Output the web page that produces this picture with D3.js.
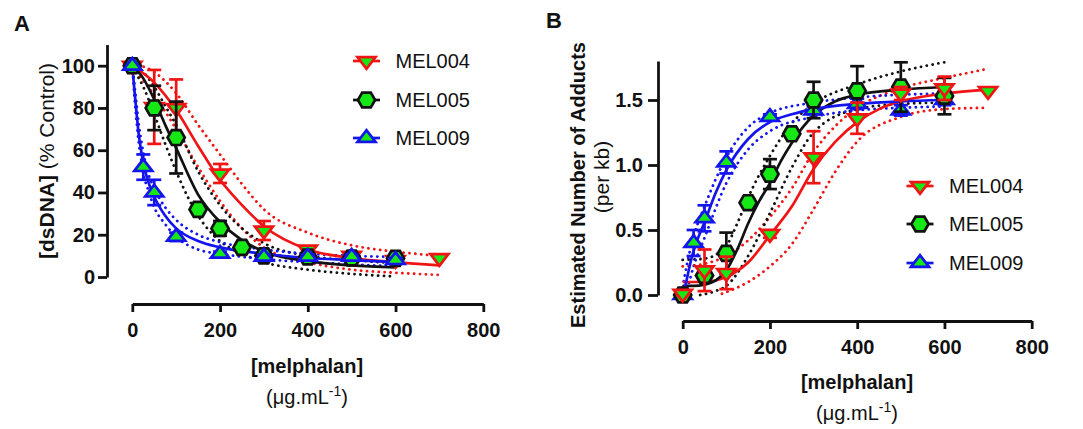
<!DOCTYPE html>
<html><head><meta charset="utf-8">
<script src="https://cdn.jsdelivr.net/npm/d3@7"></script>
<style>
body{margin:0;background:#fff}
svg text{font-family:"Liberation Sans",Arial,Helvetica,sans-serif;fill:#111}
</style>
</head><body>
<svg id="chart" width="1083" height="429"></svg>
<script>
// ---------- labels / ticks ----------
const seriesNames = ["MEL004", "MEL005", "MEL009"];
const xTickValues = [0, 200, 400, 600, 800];
const yTicksA = [0, 20, 40, 60, 80, 100];
const yTicksB = [0, 0.5, 1.0, 1.5];

// ---------- Panel A : measured points (mean, SD) ----------
const a004X = [0, 50, 100, 200, 300, 400, 500, 600, 700];
const a004Y = [100, 80.5, 80, 49, 22, 13, 10, 8, 9];
const a004E = [0, 17.5, 13.5, 4.5, 4.5, 1.5, 1, 1, 0];
const a005X = [0, 50, 100, 150, 200, 250, 300, 400, 500, 600];
const a005Y = [100, 80, 66, 32, 23, 14, 10, 9.5, 9, 8.8];
const a005E = [0, 10.5, 17, 1, 3.5, 1.5, 1, 1, 1, 1];
const a009X = [0, 25, 50, 100, 200, 300, 400, 500, 600];
const a009Y = [100, 52, 40, 19, 11, 9.6, 9.6, 9.6, 8];
const a009E = [0, 6, 6, 2, 1, 1, 1, 1, 1];

// ---------- Panel A : fitted curves + 95% bands ----------
const aFit004X = [0, 50, 100, 150, 200, 250, 300, 400, 500, 600, 700];
const aFit004Y = [100, 92, 79, 62, 46, 34, 24, 13, 9, 7, 5.5];
const aFit004Hi = [101, 97, 87, 72, 58, 44, 32, 21, 15, 12, 10];
const aFit004Lo = [99, 86, 70, 52, 36, 23, 14, 7, 3.5, 2, 1];
const aFit005X = [0, 25, 50, 75, 100, 150, 200, 250, 300, 400, 500, 600];
const aFit005Y = [100, 94, 84, 72, 61, 39, 26, 17.5, 12, 7.5, 5.5, 4.5];
const aFit005Hi = [101, 97, 90, 81, 72, 50, 34, 23, 16, 10, 8, 6.5];
const aFit005Lo = [99, 90, 77, 63, 50, 29, 17, 11, 7, 3.5, 1.5, 0.2];
const aFit009X = [0, 5, 10, 15, 20, 25, 35, 50, 75, 100, 150, 200, 300, 400, 500, 600];
const aFit009Y = [100, 88, 77, 67, 60, 54, 46, 38, 29, 23, 17, 14, 11, 9, 8, 7];
const aFit009Hi = [100, 91, 81, 72, 65, 59, 50, 42, 33, 27, 20, 16.5, 13, 11, 10, 9.5];
const aFit009Lo = [100, 85, 73, 63, 56, 49, 42, 33, 25, 19, 13, 11, 8.5, 7, 6, 5];

// ---------- Panel B : measured points ----------
const b004X = [0, 50, 100, 200, 300, 400, 500, 600, 700];
const b004Y = [0.01, 0.19, 0.17, 0.47, 1.06, 1.36, 1.55, 1.59, 1.57];
const b004E = [0.01, 0.16, 0.125, 0.03, 0.2, 0.12, 0.05, 0.09, 0];
const b005X = [0, 50, 100, 150, 200, 250, 300, 400, 500, 600];
const b005Y = [0, 0.15, 0.32, 0.71, 0.93, 1.24, 1.5, 1.57, 1.6, 1.53];
const b005E = [0.01, 0.03, 0.16, 0.03, 0.115, 0.03, 0.14, 0.19, 0.19, 0.14];
const b009X = [0, 25, 50, 100, 200, 300, 400, 500, 600];
const b009Y = [0, 0.4, 0.59, 1.02, 1.37, 1.42, 1.47, 1.42, 1.5];
const b009E = [0.02, 0.1, 0.1, 0.085, 0.02, 0.03, 0.04, 0.04, 0.04];

// ---------- Panel B : fitted curves + bands ----------
const bFit004X = [0, 50, 100, 150, 200, 250, 300, 350, 400, 450, 500, 600, 700];
const bFit004Y = [0.1, 0.1, 0.14, 0.25, 0.46, 0.68, 0.97, 1.18, 1.33, 1.43, 1.49, 1.55, 1.58];
const bFit004HiX = [0, 50, 100, 150, 200, 250, 300, 350, 400, 500, 600, 700];
const bFit004Hi = [0.22, 0.24, 0.3, 0.42, 0.6, 0.82, 1.1, 1.3, 1.44, 1.59, 1.67, 1.74];
const bFit004LoX = [90, 150, 200, 250, 300, 350, 400, 500, 600, 700];
const bFit004Lo = [0.01, 0.1, 0.22, 0.39, 0.66, 0.95, 1.18, 1.37, 1.43, 1.44];
const bFit005X = [0, 25, 50, 75, 100, 125, 150, 175, 200, 225, 250, 275, 300, 350, 400, 500, 600];
const bFit005Y = [0.07, 0.07, 0.08, 0.11, 0.19, 0.35, 0.55, 0.72, 0.86, 1.03, 1.17, 1.29, 1.38, 1.49, 1.54, 1.58, 1.6];
const bFit005HiX = [0, 50, 100, 125, 150, 200, 250, 300, 400, 500, 600];
const bFit005Hi = [0.27, 0.28, 0.38, 0.55, 0.75, 1.07, 1.32, 1.47, 1.62, 1.72, 1.79];
const bFit005LoX = [40, 75, 100, 150, 200, 250, 300, 400, 500, 600];
const bFit005Lo = [0.0, 0.03, 0.07, 0.3, 0.63, 0.98, 1.25, 1.43, 1.47, 1.48];
const bFit009X = [0, 10, 20, 30, 50, 75, 100, 150, 200, 250, 300, 400, 500, 600];
const bFit009Y = [-0.03, 0.13, 0.28, 0.39, 0.56, 0.78, 0.96, 1.2, 1.33, 1.39, 1.43, 1.47, 1.49, 1.5];
const bFit009HiX = [0, 10, 25, 50, 100, 150, 200, 300, 400, 500, 600];
const bFit009Hi = [0.06, 0.24, 0.45, 0.68, 1.06, 1.29, 1.4, 1.48, 1.52, 1.54, 1.55];
const bFit009LoX = [5, 10, 25, 50, 100, 150, 200, 300, 400, 500, 600];
const bFit009Lo = [-0.04, 0.03, 0.22, 0.44, 0.86, 1.12, 1.26, 1.37, 1.42, 1.44, 1.45];

// ---------- style ----------
const RED = "#f01414", BLACK = "#111111", BLUE = "#1414ee", GREEN = "#16e816";
const SW = 2.7;
const svg = d3.select("#chart");

const zip = (xs, ys) => xs.map((x, i) => [x, ys[i]]);

function markerPath(kind, r) {
  const h = r * 1.5, w = r * 1.732;
  if (kind === "down") return `M${-w},${-h/2}L${w},${-h/2}L0,${h}Z`;
  if (kind === "up") return `M${-w},${h/2}L${w},${h/2}L0,${-h}Z`;
  // hexagon pointy left/right
  const pts = d3.range(6).map(i => [r * Math.cos(i * Math.PI / 3), r * Math.sin(i * Math.PI / 3)]);
  return "M" + pts.map(p => p.join(",")).join("L") + "Z";
}

function drawPanel(cfg) {
  const x = d3.scaleLinear().domain([0, 800]).range(cfg.xRange);
  const y = d3.scaleLinear().domain(cfg.yDomain).range(cfg.yRange);
  const g = svg.append("g");

  const xa = g.append("g").attr("transform", `translate(0,${cfg.xAxisY})`)
    .call(d3.axisBottom(x).tickValues(xTickValues).tickSize(8).tickSizeOuter(0).tickPadding(11));
  const ya = g.append("g").attr("transform", `translate(${cfg.yAxisX},0)`)
    .call(d3.axisLeft(y).tickValues(cfg.yTicks).tickSize(cfg.yTickSize).tickSizeOuter(0)
      .tickPadding(cfg.yTickPad).tickFormat(cfg.yFormat));
  [xa, ya].forEach(a => {
    a.selectAll("path.domain").attr("stroke", BLACK).attr("stroke-width", 2.8);
    a.selectAll(".tick line").attr("stroke", BLACK).attr("stroke-width", 2.8);
    a.selectAll(".tick text").attr("font-size", 20).attr("font-weight", "bold")
      .attr("font-family", "Liberation Sans, Arial, sans-serif").attr("fill", BLACK);
  });

  const line = d3.line().x(d => x(d[0])).y(d => y(d[1])).curve(d3.curveMonotoneX);

  cfg.series.forEach(s => {
    [[s.hiX || s.fitX, s.hi], [s.loX || s.fitX, s.lo]].forEach(([xs, ys]) => {
      g.append("path").attr("d", line(zip(xs, ys))).attr("fill", "none")
        .attr("stroke", s.color).attr("stroke-width", 2.8).attr("stroke-dasharray", "0.1 5.8")
        .attr("stroke-linecap", "round");
    });
  });
  cfg.series.forEach(s => {
    g.append("path").attr("d", line(zip(s.fitX, s.fit))).attr("fill", "none")
      .attr("stroke", s.color).attr("stroke-width", SW);
  });

  cfg.drawOrder.forEach(i => {
    const s = cfg.series[i];
    const pts = s.px.map((v, k) => ({x: v, y: s.py[k], e: s.pe[k]}));
    const gs = g.append("g");
    const eb = gs.selectAll("g.eb").data(pts.filter(d => d.e > 0)).join("g")
      .attr("stroke", s.color).attr("stroke-width", SW);
    eb.append("line").attr("x1", d => x(d.x)).attr("x2", d => x(d.x))
      .attr("y1", d => y(d.y + d.e)).attr("y2", d => y(d.y - d.e));
    eb.append("line").attr("x1", d => x(d.x) - 7).attr("x2", d => x(d.x) + 7)
      .attr("y1", d => y(d.y + d.e)).attr("y2", d => y(d.y + d.e));
    eb.append("line").attr("x1", d => x(d.x) - 7).attr("x2", d => x(d.x) + 7)
      .attr("y1", d => y(d.y - d.e)).attr("y2", d => y(d.y - d.e));
    gs.selectAll("path.m").data(pts).join("path")
      .attr("transform", d => `translate(${x(d.x)},${y(d.y)})`)
      .attr("d", markerPath(s.marker, s.marker === "hex" ? 8.6 : 5.2))
      .attr("fill", GREEN).attr("stroke", s.color).attr("stroke-width", SW);
  });

  cfg.series.forEach((s, i) => {
    const ly = cfg.legendY[i];
    g.append("line").attr("x1", cfg.legendX - 13.5).attr("x2", cfg.legendX + 13.5)
      .attr("y1", ly).attr("y2", ly).attr("stroke", s.color).attr("stroke-width", SW);
    g.append("path").attr("transform", `translate(${cfg.legendX},${ly})`)
      .attr("d", markerPath(s.marker, s.marker === "hex" ? 8.6 : 5.2))
      .attr("fill", GREEN).attr("stroke", s.color).attr("stroke-width", SW);
    g.append("text").attr("x", cfg.legendX + 29).attr("y", ly).attr("dy", "0.36em")
      .attr("font-size", 20).text(seriesNames[i]);
  });

  g.append("text").attr("x", cfg.xLabelX).attr("y", cfg.xLabelY).attr("text-anchor", "middle")
    .attr("font-size", 20).attr("font-weight", "bold").text("[melphalan]");
  const u = g.append("text").attr("x", cfg.xLabelX).attr("y", cfg.xLabelY + 31)
    .attr("text-anchor", "middle").attr("font-size", 20);
  u.append("tspan").text("(\u03bcg.mL");
  u.append("tspan").attr("dy", -8).attr("font-size", 14).text("-1");
  u.append("tspan").attr("dy", 8).text(")");

  g.append("text").attr("x", cfg.letterX).attr("y", cfg.letterY).attr("font-size", 22)
    .attr("font-weight", "bold").text(cfg.letter);
  return g;
}

const gA = drawPanel({
  letter: "A", letterX: 14, letterY: 31,
  xRange: [132.3, 483.3], xAxisY: 304,
  yDomain: [0, 110], yRange: [277, 277 - 110 * 2.113], yAxisX: 107,
  yTicks: yTicksA, yTickSize: 9, yTickPad: 3, yFormat: d3.format("d"),
  xLabelX: 307, xLabelY: 373,
  legendX: 366.5, legendY: [61, 100, 138],
  drawOrder: [0, 1, 2],
  series: [
    {color: RED, marker: "down", px: a004X, py: a004Y, pe: a004E, fitX: aFit004X, fit: aFit004Y, hi: aFit004Hi, lo: aFit004Lo},
    {color: BLACK, marker: "hex", px: a005X, py: a005Y, pe: a005E, fitX: aFit005X, fit: aFit005Y, hi: aFit005Hi, lo: aFit005Lo},
    {color: BLUE, marker: "up", px: a009X, py: a009Y, pe: a009E, fitX: aFit009X, fit: aFit009Y, hi: aFit009Hi, lo: aFit009Lo}
  ]
});
const yl = gA.append("text").attr("transform", "translate(54,161) rotate(-90)")
  .attr("text-anchor", "middle").attr("font-size", 21);
yl.append("tspan").attr("font-weight", "bold").text("[dsDNA]");
yl.append("tspan").text(" (% Control)");

const gB = drawPanel({
  letter: "B", letterX: 546, letterY: 28,
  xRange: [682.7, 1031.7], xAxisY: 321,
  yDomain: [0, 1.8], yRange: [295, 295 - 1.8 * 130], yAxisX: 658,
  yTicks: yTicksB, yTickSize: 10, yTickPad: 5, yFormat: d3.format(".1f"),
  xLabelX: 857, xLabelY: 389,
  legendX: 920, legendY: [186, 224, 263],
  drawOrder: [2, 1, 0],
  series: [
    {color: RED, marker: "down", px: b004X, py: b004Y, pe: b004E, fitX: bFit004X, fit: bFit004Y, hiX: bFit004HiX, hi: bFit004Hi, loX: bFit004LoX, lo: bFit004Lo},
    {color: BLACK, marker: "hex", px: b005X, py: b005Y, pe: b005E, fitX: bFit005X, fit: bFit005Y, hiX: bFit005HiX, hi: bFit005Hi, loX: bFit005LoX, lo: bFit005Lo},
    {color: BLUE, marker: "up", px: b009X, py: b009Y, pe: b009E, fitX: bFit009X, fit: bFit009Y, hiX: bFit009HiX, hi: bFit009Hi, loX: bFit009LoX, lo: bFit009Lo}
  ]
});
gB.append("text").attr("transform", "translate(585,185) rotate(-90)")
  .attr("text-anchor", "middle").attr("font-size", 20).attr("font-weight", "bold")
  .text("Estimated Number of Adducts");
gB.append("text").attr("transform", "translate(609,177) rotate(-90)")
  .attr("text-anchor", "middle").attr("font-size", 21).text("(per kb)");
</script>
</body></html>
